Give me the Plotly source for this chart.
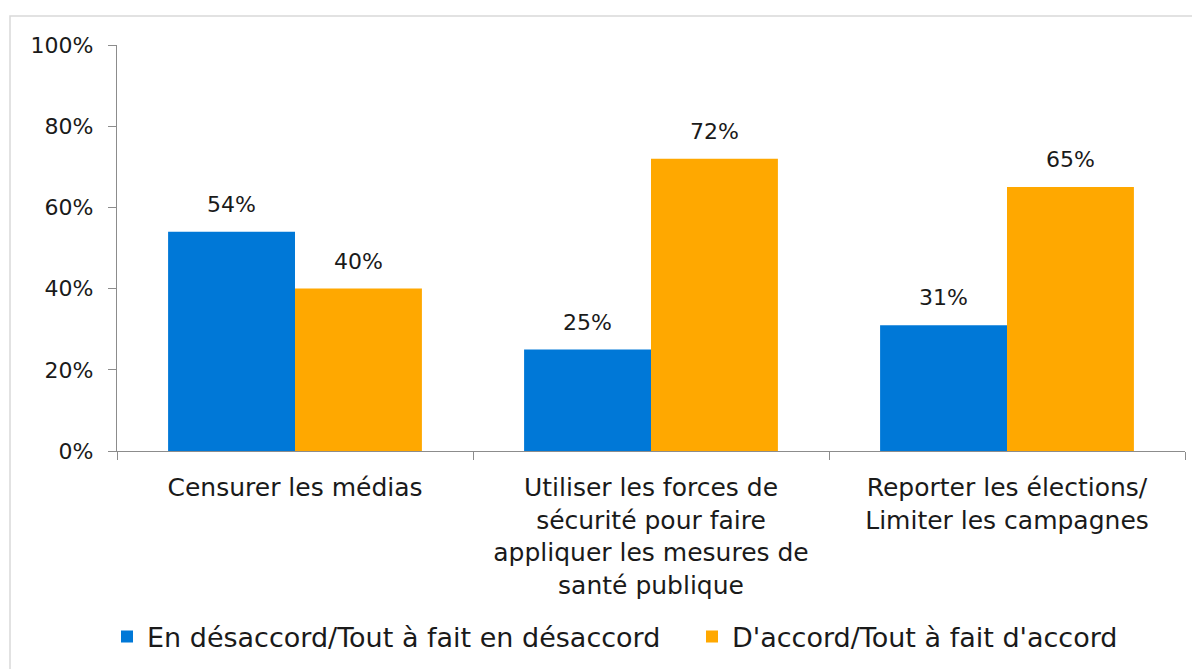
import plotly.graph_objects as go

categories = [
    "Censurer les médias",
    "Utiliser les forces de<br>sécurité pour faire<br>appliquer les mesures de<br>santé publique",
    "Reporter les élections/<br>Limiter les campagnes",
]
series_names = ["En désaccord/Tout à fait en désaccord", "D'accord/Tout à fait d'accord"]
disagree = [54, 25, 31]
agree = [40, 72, 65]
tick_vals = [0, 20, 40, 60, 80, 100]
tick_text = ["0%", "20%", "40%", "60%", "80%", "100%"]

colors = ["#0078D7", "#FFA800"]
FONT = "DejaVu Sans"

fig = go.Figure()
for i, (name, vals, col) in enumerate(zip(series_names, [disagree, agree], colors)):
    fig.add_trace(go.Bar(x=categories, y=vals, name=name, legend="legend" if i == 0 else "legend2",
                         marker=dict(color=col, line=dict(width=0))))

# page offset (body margin) compensation
OFF = 8
FW, FH = 1200 - OFF, 669 - OFF
L, R, T, B = 117 - OFF, 15, 45 - OFF, 218
W = FW - L - R
H = FH - T - B
cat_w = W / 3
bar_w = cat_w * (1 - 0.287) / 2

def px2x(px):
    return (px - OFF - L) / W
def px2y(py):
    return (FH - B - (py - OFF)) / H

annotations = []
for vals, sh in [(disagree, -bar_w / 2), (agree, bar_w / 2)]:
    for c, v in zip(categories, vals):
        annotations.append(dict(x=c, y=v, text=f"{v}%", showarrow=False, xshift=sh, yshift=13,
                                yanchor="bottom", font=dict(family=FONT, size=22, color="#1a1a1a")))

leg_common = dict(orientation="h", xanchor="left", y=px2y(637), yanchor="middle",
                  font=dict(family=FONT, size=27, color="#1a1a1a"), itemwidth=30,
                  bgcolor="rgba(0,0,0,0)")

fig.update_layout(
    width=FW, height=FH,
    margin=dict(l=L, r=R, t=T, b=B, autoexpand=False),
    paper_bgcolor="white", plot_bgcolor="white",
    barmode="group", bargap=0.287, bargroupgap=0,
    font=dict(family=FONT, size=22, color="#1a1a1a"),
    annotations=annotations,
    showlegend=True,
    legend=dict(x=px2x(107), **leg_common),
    legend2=dict(x=px2x(692), **leg_common),
    shapes=[dict(type="rect", xref="paper", yref="paper", x0=px2x(10), x1=px2x(1197),
                 y0=px2y(700), y1=px2y(16), line=dict(color="#D9D9D9", width=1.5),
                 fillcolor="rgba(0,0,0,0)", layer="below")],
    xaxis=dict(showline=True, linecolor="#8C8C8C", linewidth=1.3, ticks="outside",
               tickson="boundaries", ticklen=8, tickcolor="#8C8C8C", tickwidth=1.3,
               ticklabelstandoff=14,
               tickfont=dict(family=FONT, size=25, color="#1a1a1a"), showgrid=False),
    yaxis=dict(range=[0, 100], tickvals=tick_vals, ticktext=tick_text, showline=True,
               linecolor="#8C8C8C", linewidth=1.3, ticks="outside", ticklen=8,
               tickcolor="#8C8C8C", tickwidth=1.3, showgrid=False, zeroline=False,
               ticklabelstandoff=10,
               tickfont=dict(family=FONT, size=22, color="#1a1a1a")),
)
fig.write_html("out.html")
